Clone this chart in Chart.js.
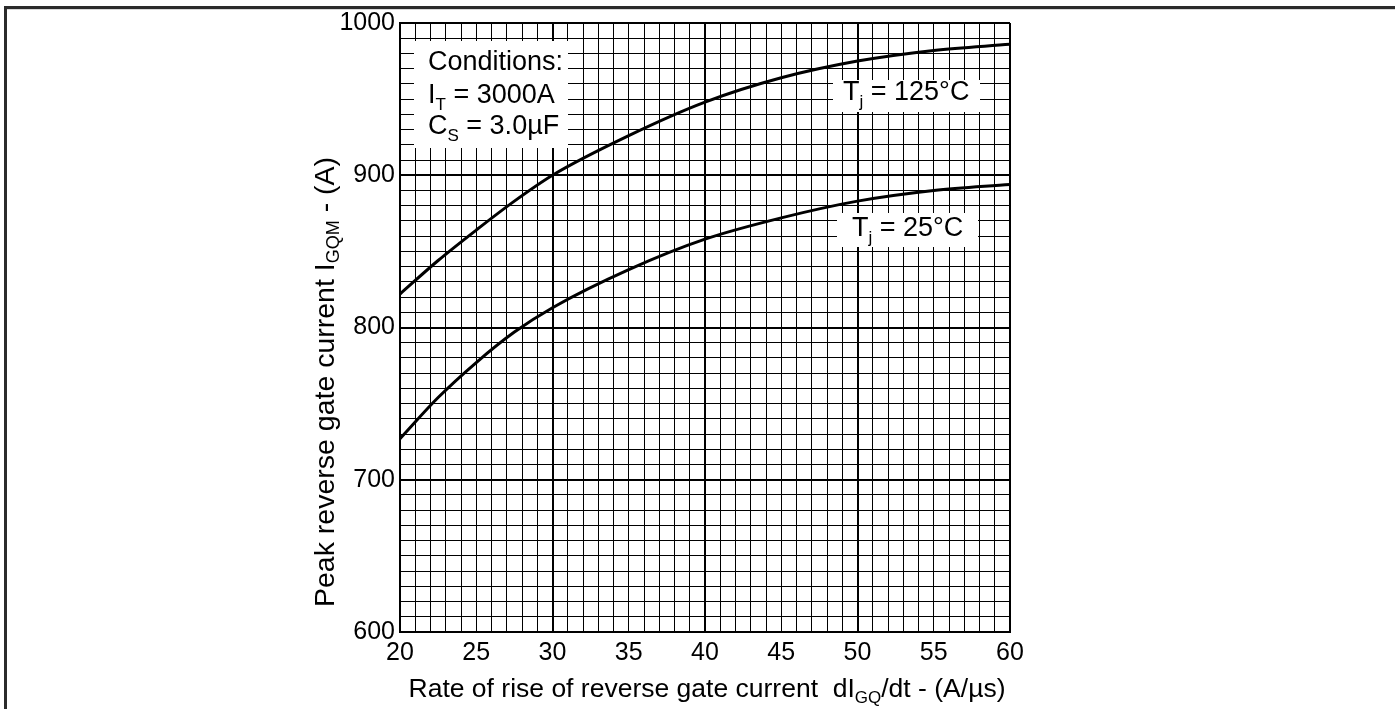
<!DOCTYPE html>
<html>
<head>
<meta charset="utf-8">
<script src="https://cdn.jsdelivr.net/npm/chart.js@4.4.1/dist/chart.umd.min.js"></script>
<style>
html,body{margin:0;padding:0;background:#fff;}
canvas{display:block;}
</style>
</head>
<body>
<canvas id="c" width="1395" height="709"></canvas>
<script>
// ---- data ----
const xValues = [20, 22.5, 25, 27.5, 30, 35, 40, 45, 50, 55, 60];
const tj125 = [822, 844, 864, 883, 900, 926, 948, 964, 975, 982, 986];
const tj25  = [727, 754, 777, 797, 813, 838, 858, 872, 883, 890, 894];
const seriesNames = ['Tj = 125°C', 'Tj = 25°C'];
const xTickLabels = [20, 25, 30, 35, 40, 45, 50, 55, 60];
const yTickLabels = [600, 700, 800, 900, 1000];

const FONT = '"Liberation Sans", Arial, Helvetica, sans-serif';

function toPts(ys){ return xValues.map((x,i)=>({x:x, y:ys[i]})); }

function drawSegs(ctx, segs, x, y, size, subSize, subDrop){
  let cx = x;
  for(const s of segs){
    if(s.sub){
      ctx.font = subSize + 'px ' + FONT;
      ctx.fillText(s.t, cx, y + subDrop);
    } else {
      ctx.font = size + 'px ' + FONT;
      ctx.fillText(s.t, cx, y);
    }
    cx += ctx.measureText(s.t).width;
  }
  return cx - x;
}
function segsWidth(ctx, segs, size, subSize){
  let w = 0;
  for(const s of segs){
    ctx.font = (s.sub ? subSize : size) + 'px ' + FONT;
    w += ctx.measureText(s.t).width;
  }
  return w;
}

const decor = {
  id: 'decor',
  beforeDraw(chart){
    const ctx = chart.ctx;
    ctx.save();
    ctx.fillStyle = '#fff';
    ctx.fillRect(0,0,chart.width,chart.height);
    ctx.fillStyle = '#2b2b2b';
    ctx.fillRect(4, 6, 1391, 3);
    ctx.fillRect(4, 6, 3, 703);
    ctx.fillStyle = '#d8d8d8';
    ctx.fillRect(7, 9, 1388, 1);
    ctx.restore();
  },
  afterDatasetsDraw(chart){
    const ctx = chart.ctx;
    ctx.save();
    ctx.textBaseline = 'middle';
    ctx.textAlign = 'left';
    ctx.fillStyle = '#fff';
    ctx.fillRect(414, 41, 154, 107);
    ctx.fillRect(833, 80, 147, 32);
    ctx.fillRect(837, 213, 141, 34);
    ctx.fillStyle = '#000';
    const A = 27, S = 17, D = 9;
    drawSegs(ctx, [{t:'Conditions:'}], 428, 63, A, S, D);
    drawSegs(ctx, [{t:'I'},{t:'T',sub:true},{t:' = 3000A'}], 428, 96, A, S, D);
    drawSegs(ctx, [{t:'C'},{t:'S',sub:true},{t:' = 3.0µF'}], 428, 127, A, S, D);
    drawSegs(ctx, [{t:'T'},{t:'j',sub:true},{t:' = 125°C'}], 843, 93, A, S, D);
    drawSegs(ctx, [{t:'T'},{t:'j',sub:true},{t:' = 25°C'}], 852, 229, A, S, D);
    ctx.restore();
  },
  afterDraw(chart){
    const ctx = chart.ctx;
    ctx.save();
    ctx.fillStyle = '#000';
    ctx.textBaseline = 'middle';
    ctx.textAlign = 'left';
    const xs = [{t:'Rate of rise of reverse gate current  dI'},{t:'GQ',sub:true},{t:'/dt - (A/µs)'}];
    const xw = segsWidth(ctx, xs, 26.5, 17);
    drawSegs(ctx, xs, 707 - xw/2, 690, 26.5, 17, 8);
    const ys = [{t:'Peak reverse gate current I'},{t:'GQM',sub:true},{t:' - (A)'}];
    const yw = segsWidth(ctx, ys, 28.5, 18);
    ctx.translate(326, 382);
    ctx.rotate(-Math.PI/2);
    drawSegs(ctx, ys, -yw/2, 0, 28.5, 18, 8);
    ctx.restore();
  }
};

new Chart(document.getElementById('c'), {
  type: 'line',
  data: {
    datasets: [
      { label: seriesNames[0], data: toPts(tj125), borderColor:'#000', borderWidth:3, pointRadius:0, cubicInterpolationMode:'monotone', fill:false },
      { label: seriesNames[1], data: toPts(tj25), borderColor:'#000', borderWidth:3, pointRadius:0, cubicInterpolationMode:'monotone', fill:false }
    ]
  },
  options: {
    responsive: false,
    animation: false,
    devicePixelRatio: 1,
    layout: { padding: { left: 0, top: 23, right: 385, bottom: 0 } },
    plugins: { legend: { display:false }, tooltip: { enabled:false } },
    scales: {
      x: {
        type: 'linear', min: xTickLabels[0], max: xTickLabels[xTickLabels.length-1],
        afterFit(s){ s.height = 77; },
        ticks: {
          stepSize: 1, autoSkip: false, maxRotation: 0, padding: 6,
          color: '#000', font: { family: FONT, size: 25 },
          callback: v => xTickLabels.includes(v) ? String(v) : ''
        },
        grid: {
          drawTicks: false, color: '#000',
          lineWidth: c => (c.tick && c.tick.value % 10 === 0) ? 2 : 1
        },
        border: { display: true, color: '#000', width: 2 }
      },
      y: {
        type: 'linear', min: yTickLabels[0], max: yTickLabels[yTickLabels.length-1],
        afterFit(s){ s.width = 400; },
        ticks: {
          stepSize: 10, autoSkip: false, padding: 5,
          color: '#000', font: { family: FONT, size: 25 },
          callback: v => yTickLabels.includes(v) ? String(v) : ''
        },
        grid: {
          drawTicks: false, color: '#000',
          lineWidth: c => (c.tick && c.tick.value % 100 === 0) ? 2 : 1
        },
        border: { display: true, color: '#000', width: 2 }
      }
    }
  },
  plugins: [decor]
});
</script>
</body>
</html>
